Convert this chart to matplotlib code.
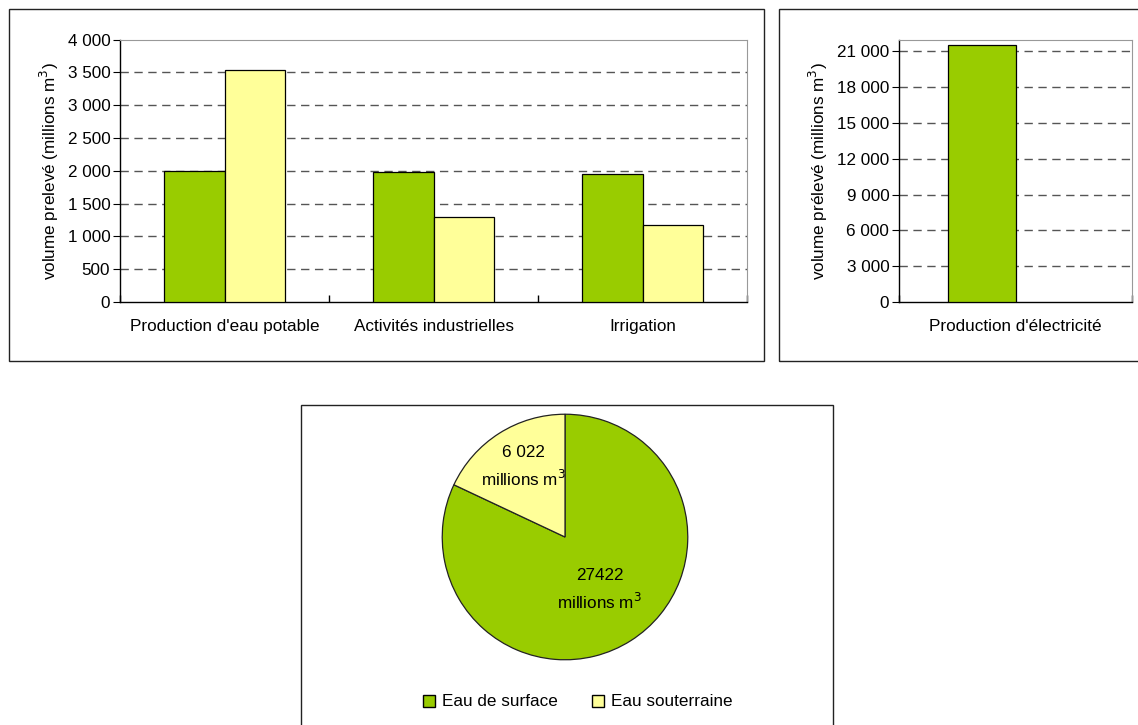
import matplotlib.pyplot as plt
from matplotlib.patches import Rectangle, Patch
from matplotlib.ticker import FuncFormatter
import numpy as np

plt.rcParams['font.family'] = ['Liberation Sans', 'DejaVu Sans']

# data
usages = ["Production d'eau potable", "Activités industrielles", "Irrigation"]
surface = [2000, 1980, 1950]
souterraine = [3540, 1290, 1180]

elec_label = ["Production d'électricité"]
elec_surface = [21500]
elec_souterraine = [0]

pie_labels = ["Eau de surface", "Eau souterraine"]
pie_values = [27422, 6022]
pie_texts = ["27422\nmillions m$^3$", "6 022\nmillions m$^3$"]

VERT = '#99CC00'
JAUNE = '#FFFF99'
W, H = 1138, 725
FS = 12.3


def fmt_milliers(v, pos):
    return '{:,}'.format(int(v)).replace(',', ' ')


def box(fig, x0, y0, x1, y1):
    fig.patches.append(Rectangle((x0 / W, 1 - y1 / H), (x1 - x0) / W, (y1 - y0) / H,
                                 transform=fig.transFigure, fill=False,
                                 edgecolor='#222222', linewidth=1.0))


def barres(ax, cats, v1, v2, ymax, ytop, pas, ylabel):
    x = np.arange(len(cats))
    w = 0.288
    b1 = ax.bar(x - w / 2, v1, w, color=VERT, edgecolor='black', linewidth=0.9, zorder=3)
    b2 = ax.bar(x + w / 2, v2, w, color=JAUNE, edgecolor='black', linewidth=0.9, zorder=3)
    for p in list(b1) + list(b2):
        if p.get_height() == 0:
            p.set_visible(False)
    ax.set_xlim(-0.5, len(cats) - 0.5)
    ax.set_ylim(0, ymax)
    ax.set_yticks(np.arange(0, ytop + 1, pas))
    ax.yaxis.set_major_formatter(FuncFormatter(fmt_milliers))
    for yv in np.arange(pas, ytop + 1, pas):
        if yv < ymax:
            ax.axhline(yv, color='#555555', linestyle=(0, (6, 4)), linewidth=1.0, zorder=1)
    ax.set_xticks(np.arange(len(cats) + 1) - 0.5)
    ax.set_xticklabels([])
    ax.set_xticks(x, minor=True)
    ax.set_xticklabels(cats, minor=True, fontsize=FS)
    ax.tick_params(axis='x', which='minor', length=0, pad=12)
    ax.tick_params(axis='x', which='major', length=5, direction='in', width=1)
    ax.tick_params(axis='y', length=5, direction='out', labelsize=FS, pad=2)
    ax.set_ylabel(ylabel, fontsize=FS, labelpad=5)
    for s in ['top', 'right']:
        ax.spines[s].set_color('#999999')
    for s in ['left', 'bottom']:
        ax.spines[s].set_color('black')
        ax.spines[s].set_linewidth(1.0)


fig = plt.figure(figsize=(W / 100, H / 100), dpi=100)

box(fig, 9, 9, 764, 361)
box(fig, 779, 9, 1145, 361)
box(fig, 301, 405, 833, 730)

ax1 = fig.add_axes([120 / W, 1 - 302 / H, 627 / W, 262.5 / H])
barres(ax1, usages, surface, souterraine, 4000, 4000, 500, 'volume prelevé (millions m$^3$)')

ax2 = fig.add_axes([899 / W, 1 - 302 / H, 233 / W, 262.5 / H])
barres(ax2, elec_label, elec_surface, elec_souterraine, 22000, 21000, 3000,
       'volume prélevé (millions m$^3$)')

# camembert
r = 124
ax3 = fig.add_axes([(565 - r) / W, 1 - (537 + r) / H, 2 * r / W, 2 * r / H])
ax3.pie(pie_values, colors=[VERT, JAUNE], startangle=90, counterclock=False,
        wedgeprops=dict(edgecolor='#222222', linewidth=0.9), radius=1)
ax3.set_xlim(-1.01, 1.01)
ax3.set_ylim(-1.01, 1.01)
ax3.text(0.28, -0.43, pie_texts[0], ha='center', va='center', fontsize=FS, linespacing=1.5)
ax3.text(-0.34, 0.57, pie_texts[1], ha='center', va='center', fontsize=FS, linespacing=1.5)

handles = [Patch(facecolor=VERT, edgecolor='black'), Patch(facecolor=JAUNE, edgecolor='black')]
fig.legend(handles, pie_labels, loc='center', bbox_to_anchor=(578 / W, 1 - 702 / H),
           ncol=2, frameon=False, fontsize=FS, handlelength=0.7, handleheight=0.7,
           handletextpad=0.4, columnspacing=2.0)

fig.savefig('out.png', dpi=100)
